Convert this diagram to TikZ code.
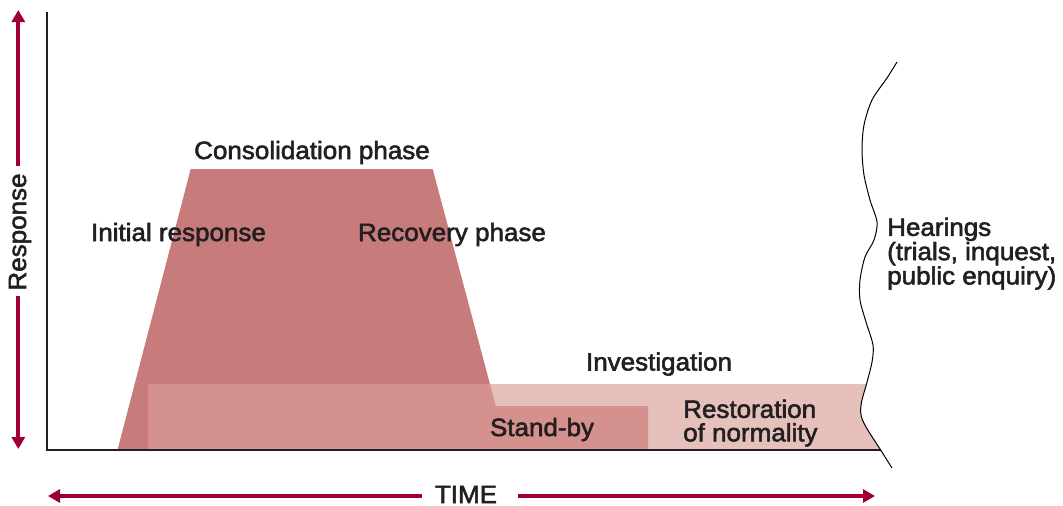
\documentclass[tikz,border=0pt]{standalone}
\usepackage{fontspec}
\setmainfont{Liberation Sans}[FakeBold=2.2,FakeStretch=1.04]
\usetikzlibrary{arrows.meta}
\definecolor{crim}{RGB}{160,0,48}
\definecolor{trap}{RGB}{199,123,122}
\definecolor{midc}{RGB}{212,145,142}
\definecolor{lightc}{RGB}{230,193,188}
\definecolor{ink}{RGB}{35,31,32}
\begin{document}
\begin{tikzpicture}[x=1pt,y=-1pt,
  lbl/.style={font=\fontsize{25}{23.5}\selectfont, text=ink, inner sep=0pt},
  arr/.style={crim, line width=4pt, -{Triangle[width=13pt,length=12pt]}},
  axisline/.style={ink, line width=2pt}]
\useasboundingbox (0,0) rectangle (1063,506);
% trapezoid
\fill[trap] (117.5,450) -- (190.7,169) -- (432.7,169) -- (507.5,450) -- cycle;
% band clipped by wave
\begin{scope}
\clip plot[smooth] coordinates {(897,62) (887,78) (872,100) (864,125) (862,150) (864,175) (870,200) (877,222) (874,240) (865,257) (860,280) (860,300) (866,322) (873,345) (872,362) (866.5,384) (861.5,402) (861,415) (866,427) (880,449) (892,468)} -- (0,468) -- (0,0) -- (897,0) -- cycle;
\fill[lightc] (148,384) rectangle (950,450);
\fill[midc] (148,384) -- (490,384) -- (495.8,406) -- (648,406) -- (648,450) -- (148,450) -- cycle;
\draw[axisline] (47,12) -- (47,450) -- (950,450);
\end{scope}
% wave
\draw[black, line width=1pt] plot[smooth] coordinates {(897,62) (887,78) (872,100) (864,125) (862,150) (864,175) (870,200) (877,222) (874,240) (865,257) (860,280) (860,300) (866,322) (873,345) (872,362) (866.5,384) (861.5,402) (861,415) (866,427) (880,449) (892,468)};
% labels
\node[lbl, anchor=base] (cons) at (312,159) {Consolidation phase};
\node[lbl, anchor=base] (init) at (178.5,241) {Initial response};
\node[lbl, anchor=base] (reco) at (452,241) {Recovery phase};
\node[lbl, anchor=base] (inv) at (659,370.5) {Investigation};
\node[lbl, anchor=base] (stby) at (542,436) {Stand-by};
\node[lbl, anchor=north west, align=left] (rest) at (683,399.5) {Restoration\\of normality};
\node[lbl, font=\fontsize{25}{22}\selectfont, anchor=north west, align=left] (hear) at (887,217.5) {Hearings\\(trials, inquest,\\public enquiry)};
\node[lbl, anchor=base] (time) at (466,503) {TIME};
\node[lbl, rotate=90, anchor=base] (resp) at (26,232) {Response};
% arrows
\coordinate (rtop) at (18.3,10);
\coordinate (rbot) at (18.3,449);
\coordinate (rs1) at (18.3,166);
\coordinate (rs2) at (18.3,296);
\coordinate (tl) at (48,496);
\coordinate (tr) at (875,496);
\coordinate (ts1) at (421.7,496);
\coordinate (ts2) at (518,496);
\draw[arr] (rs1) -- (rtop);
\draw[arr] (rs2) -- (rbot);
\draw[arr] (ts1) -- (tl);
\draw[arr] (ts2) -- (tr);
\end{tikzpicture}
\end{document}
